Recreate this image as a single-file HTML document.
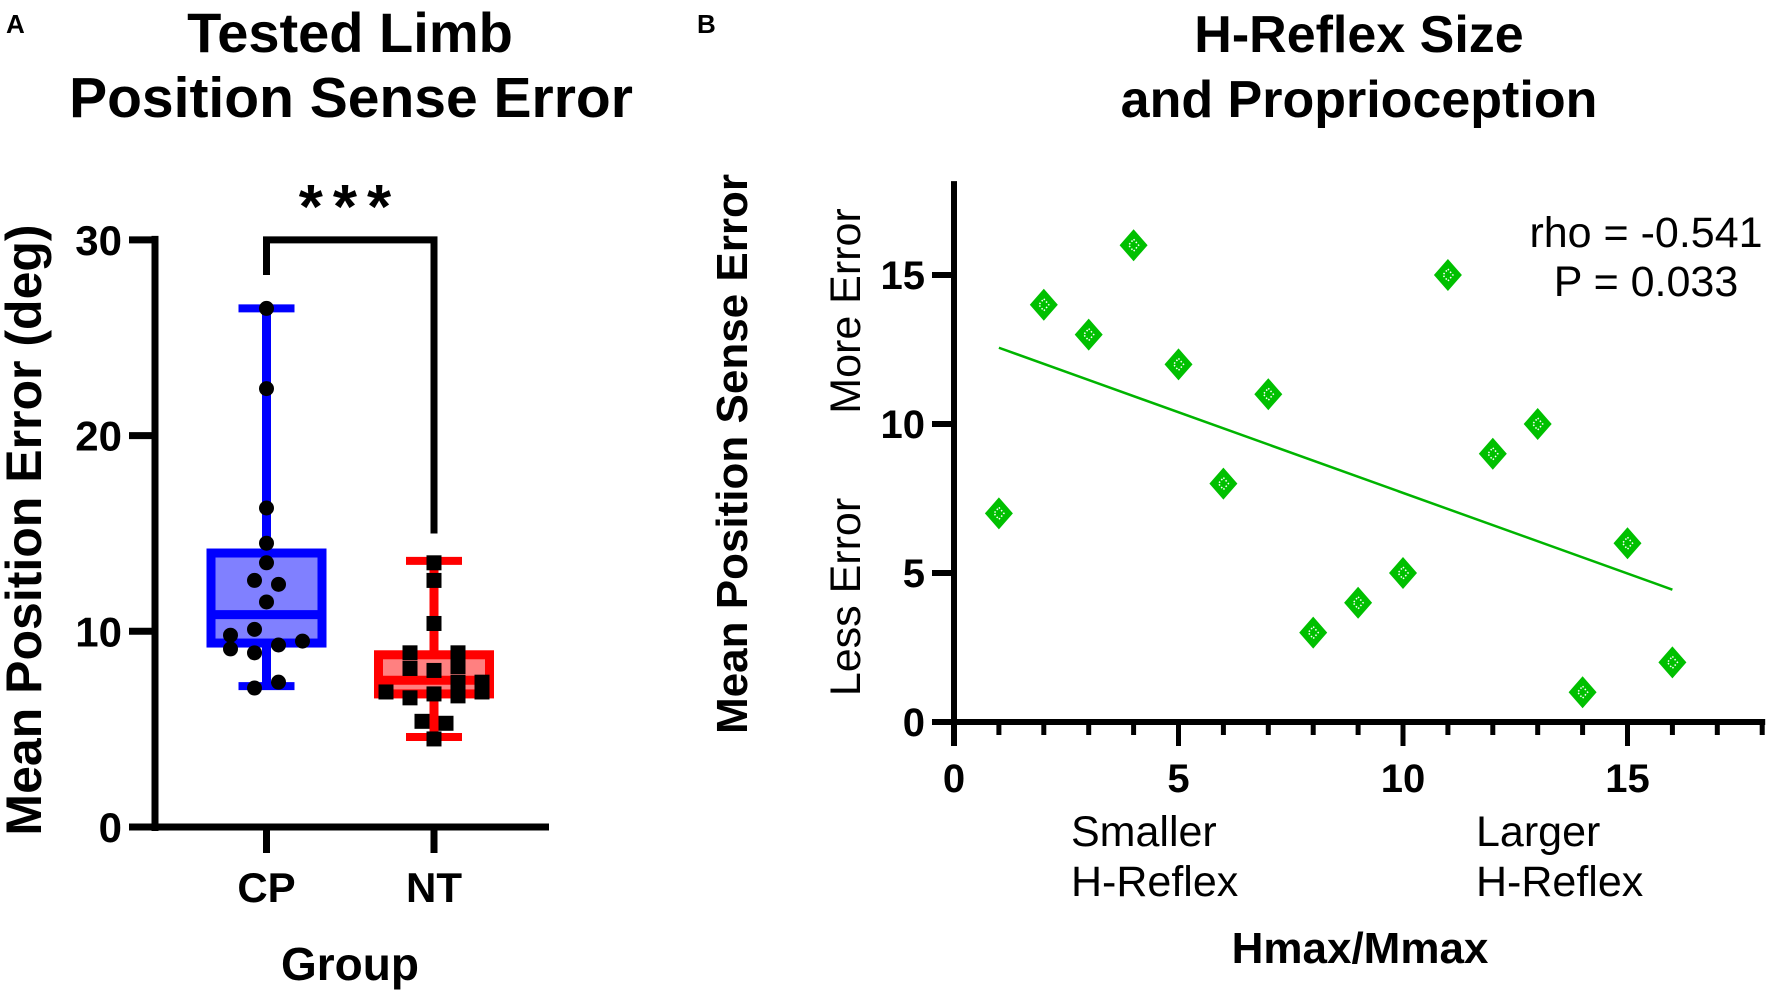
<!DOCTYPE html>
<html><head><meta charset="utf-8"><style>
html,body{margin:0;padding:0;background:#fff}
svg{display:block}
text{font-family:"Liberation Sans",Arial,sans-serif}
</style></head><body>
<svg id="fig" width="1772" height="992" viewBox="0 0 1772 992" xmlns="http://www.w3.org/2000/svg">
<g id="pa">
<text x="6" y="33" font-size="26" font-weight="bold">A</text>
<text x="350" y="52" font-size="56" font-weight="bold" text-anchor="middle">Tested Limb</text>
<text x="351" y="117" font-size="57" font-weight="bold" text-anchor="middle">Position Sense Error</text>
<text transform="translate(41,530) rotate(-90)" font-size="50" font-weight="bold" text-anchor="middle">Mean Position Error (deg)</text>
<text x="350" y="980" font-size="46" font-weight="bold" text-anchor="middle">Group</text>
<text x="350" y="228" font-size="62" font-weight="bold" text-anchor="middle" letter-spacing="10">***</text>
</g>
<g id="pb">
<text x="697" y="33" font-size="26" font-weight="bold">B</text>
<text x="1359" y="52" font-size="52" font-weight="bold" text-anchor="middle">H-Reflex Size</text>
<text x="1359" y="117" font-size="52" font-weight="bold" text-anchor="middle">and Proprioception</text>
<text transform="translate(747,454) rotate(-90)" font-size="44" font-weight="bold" text-anchor="middle">Mean Position Sense Error</text>
<text transform="translate(860,311) rotate(-90)" font-size="43" text-anchor="middle">More Error</text>
<text transform="translate(860,597) rotate(-90)" font-size="43" text-anchor="middle">Less Error</text>
<text x="1071" y="846" font-size="43">Smaller</text>
<text x="1071" y="896" font-size="43">H-Reflex</text>
<text x="1476" y="846" font-size="43">Larger</text>
<text x="1476" y="896" font-size="43">H-Reflex</text>
<text x="1360" y="963" font-size="44" font-weight="bold" text-anchor="middle">Hmax/Mmax</text>
<text x="1646" y="247" font-size="43" text-anchor="middle">rho = -0.541</text>
<text x="1646" y="296" font-size="43" text-anchor="middle">P = 0.033</text>
</g>
</svg>
<script>
// ---- Panel A data ----
const groups = ["CP", "NT"];
const boxQ1 = [9.4, 6.8];
const boxMedian = [10.85, 7.5];
const boxQ3 = [14.0, 8.8];
const whiskerMin = [7.2, 4.6];
const whiskerMax = [26.5, 13.6];
const yTicksA = [0, 10, 20, 30];
const cpValues = [26.5, 22.4, 16.3, 14.5, 13.5, 12.6, 12.4, 11.5, 10.1, 9.8, 9.1, 8.9, 9.3, 9.5, 7.4, 7.1];
const cpJitter = [0, 0, 0, 0, 0, -1, 1, 0, -1, -3, -3, -1, 1, 3, 1, -1];
const ntValues = [13.5, 12.6, 10.4, 8.9, 8.1, 8.9, 8.2, 8.0, 6.9, 6.6, 6.8, 7.4, 6.7, 7.4, 6.9, 5.4, 5.3, 4.5];
const ntJitter = [0, 0, 0, -2, -2, 2, 2, 0, -4, -2, 0, 2, 2, 4, 4, -1, 1, 0];
// ---- Panel B data ----
const hX = [1, 2, 3, 4, 5, 6, 7, 8, 9, 10, 11, 12, 13, 14, 15, 16];
const errY = [7, 14, 13, 16, 12, 8, 11, 3, 4, 5, 15, 9, 10, 1, 6, 2];
const xTicksB = [0, 5, 10, 15];
const yTicksB = [0, 5, 10, 15];

const NS = "http://www.w3.org/2000/svg";
const svg = document.getElementById("fig");
function mk(tag, attrs, parent) {
  const e = document.createElementNS(NS, tag);
  for (const k in attrs) e.setAttribute(k, attrs[k]);
  (parent || svg).appendChild(e);
  return e;
}
const yA = v => 827 - v * 19.57;
const xA = i => [266.5, 434][i];
const gA = mk("g", {});


let e = mk("line", {x1: 155, y1: yA(30) - 4, x2: 155, y2: 831, stroke: "#000", "stroke-width": 7}, gA);
 
e = mk("line", {x1: 129, y1: 827, x2: 549, y2: 827, stroke: "#000", "stroke-width": 7}, gA);
 
yTicksA.forEach(t => {
  let l = mk("line", {x1: 129, y1: yA(t), x2: 155, y2: yA(t), stroke: "#000", "stroke-width": 7}, gA);
   
  let tx = mk("text", {x: 122, y: yA(t) + 15, "font-size": 42, "font-weight": "bold", "text-anchor": "end"}, gA);
  tx.textContent = t;
   
});
groups.forEach((g, i) => {
  let l = mk("line", {x1: xA(i), y1: 827, x2: xA(i), y2: 853, stroke: "#000", "stroke-width": 7}, gA);
   
  let tx = mk("text", {x: xA(i), y: 902, "font-size": 42, "font-weight": "bold", "text-anchor": "middle"}, gA);
  tx.textContent = g;
   
});
e = mk("polyline", {points: `${xA(0)},275 ${xA(0)},${yA(30)} ${xA(1)},${yA(30)} ${xA(1)},${yA(15)}`, fill: "none", stroke: "#000", "stroke-width": 7}, gA);
 
const strokeC = ["#0000ff", "#ff0000"], fillC = ["#8080ff", "#ff8080"];
groups.forEach((g, i) => {
  const x = xA(i), bw = 111, cw = 56;
  let w = mk("line", {x1: x, y1: yA(whiskerMax[i]), x2: x, y2: yA(whiskerMin[i]), stroke: strokeC[i], "stroke-width": 9}, gA);
   
  [whiskerMax[i], whiskerMin[i]].forEach(v => {
    let c = mk("line", {x1: x - cw/2, y1: yA(v), x2: x + cw/2, y2: yA(v), stroke: strokeC[i], "stroke-width": 8}, gA);
     
  });
  let b = mk("rect", {x: x - bw/2, y: yA(boxQ3[i]), width: bw, height: yA(boxQ1[i]) - yA(boxQ3[i]), fill: fillC[i], stroke: strokeC[i], "stroke-width": 9}, gA);
   
  let m = mk("line", {x1: x - bw/2, y1: yA(boxMedian[i]), x2: x + bw/2, y2: yA(boxMedian[i]), stroke: strokeC[i], "stroke-width": 9}, gA);
   
});
cpValues.forEach((v, k) => {
  let c = mk("circle", {cx: xA(0) + cpJitter[k] * 12, cy: yA(v), r: 7.5, fill: "#000"}, gA);
   
});
ntValues.forEach((v, k) => {
  let s = mk("rect", {x: xA(1) + ntJitter[k] * 12 - 7.5, y: yA(v) - 7.5, width: 15, height: 15, fill: "#000"}, gA);
   
});

const xB = v => 954 + v * 44.9;
const yB = v => 722 - v * 29.8;
const gB = mk("g", {});


e = mk("line", {x1: 954, y1: yB(18.15), x2: 954, y2: 746, stroke: "#000", "stroke-width": 6}, gB);
 
e = mk("line", {x1: 932, y1: 722, x2: xB(18) + 3, y2: 722, stroke: "#000", "stroke-width": 6}, gB);
 
for (let t = 1; t <= 18; t++) {
  let l = mk("line", {x1: xB(t), y1: 722, x2: xB(t), y2: xTicksB.includes(t) ? 746 : 735, stroke: "#000", "stroke-width": 5}, gB);
   
}
xTicksB.forEach(t => {
  let tx = mk("text", {x: xB(t), y: 792, "font-size": 40, "font-weight": "bold", "text-anchor": "middle"}, gB);
  tx.textContent = t;
   
});
yTicksB.forEach(t => {
  let l = mk("line", {x1: 932, y1: yB(t), x2: 954, y2: yB(t), stroke: "#000", "stroke-width": 6}, gB);
   
  let tx = mk("text", {x: 925, y: yB(t) + 14, "font-size": 40, "font-weight": "bold", "text-anchor": "end"}, gB);
  tx.textContent = t;
   
});
const n = hX.length;
const mx = hX.reduce((a, b) => a + b, 0) / n, my = errY.reduce((a, b) => a + b, 0) / n;
let sxy = 0, sxx = 0;
hX.forEach((x, k) => { sxy += (x - mx) * (errY[k] - my); sxx += (x - mx) ** 2; });
const slope = sxy / sxx, icpt = my - slope * mx;
const x0 = Math.min(...hX), x1 = Math.max(...hX);
e = mk("line", {x1: xB(x0), y1: yB(icpt + slope * x0), x2: xB(x1), y2: yB(icpt + slope * x1), stroke: "#00b400", "stroke-width": 2.5}, gB);
 
hX.forEach((x, k) => {
  const cx = xB(x), cy = yB(errY[k]);
  const g = mk("g", {}, gB);
  
  
  mk("polygon", {points: `${cx},${cy-16} ${cx+14},${cy} ${cx},${cy+16} ${cx-14},${cy}`, fill: "#00c000"}, g);
  mk("polygon", {points: `${cx},${cy-6} ${cx+5},${cy} ${cx},${cy+6} ${cx-5},${cy}`, fill: "none", stroke: "#fff", "stroke-width": 1.5, "stroke-dasharray": "1.5 2"}, g);
});
</script>
</body></html>
